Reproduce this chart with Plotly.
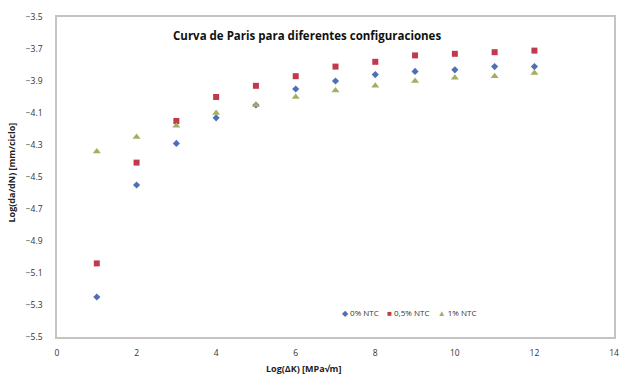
import plotly.graph_objects as go

x_vals = [1, 2, 3, 4, 5, 6, 7, 8, 9, 10, 11, 12]
ntc_0 = [-5.25, -4.55, -4.29, -4.13, -4.05, -3.95, -3.90, -3.86, -3.84, -3.83, -3.81, -3.81]
ntc_05 = [-5.04, -4.41, -4.15, -4.00, -3.93, -3.87, -3.81, -3.78, -3.74, -3.73, -3.72, -3.71]
ntc_1 = [-4.34, -4.25, -4.18, -4.10, -4.05, -4.00, -3.96, -3.93, -3.90, -3.88, -3.87, -3.85]
series_names = ["0% NTC", "0,5% NTC", "1% NTC"]
series_colors = ["#4F6FB8", "#C0394D", "#A4AE62"]
series_symbols = ["diamond", "square", "triangle-up"]
legend_glyphs = ["◆", "■", "▲"]
y_ticks = [-5.5, -5.3, -5.1, -4.9, -4.7, -4.5, -4.3, -4.1, -3.9, -3.7, -3.5]
x_ticks = [0, 2, 4, 6, 8, 10, 12, 14]

font_fam = "Open Sans, Noto Sans, sans-serif"

fig = go.Figure()
for name, ys, col, sym, sz in zip(series_names, [ntc_0, ntc_05, ntc_1], series_colors,
                                  series_symbols, [5.5, 6, 7]):
    fig.add_trace(go.Scatter(x=x_vals, y=ys, mode="markers", name=name,
                             marker=dict(symbol=sym, size=sz, color=col)))

axis_common = dict(showgrid=False, zeroline=False, showline=True, linecolor="#C4C4C4",
                   linewidth=1.5, mirror=True, ticks="", ticklabeloverflow="allow",
                   tickfont=dict(family=font_fam, size=8.5, color="#333333"))

legend_text = "&nbsp;&nbsp;&nbsp;&nbsp;".join(
    f"<span style='color:{c}'>{g}</span> {n}"
    for g, c, n in zip(legend_glyphs, series_colors, series_names))

fig.update_layout(
    width=621, height=377,
    margin=dict(l=57, r=2, t=17, b=40),
    paper_bgcolor="white", plot_bgcolor="white",
    font=dict(family=font_fam),
    xaxis=dict(range=[0, 14], tickvals=x_ticks, ticklabelstandoff=7, **axis_common),
    yaxis=dict(range=[-5.5, -3.5], tickvals=y_ticks, tickformat=".1f",
               ticklabelstandoff=11, **axis_common),
    showlegend=False,
    annotations=[
        dict(text="<b>Curva de Paris para diferentes configuraciones</b>",
             xref="paper", yref="paper", x=0.205, y=0.943, xanchor="left", yanchor="middle",
             showarrow=False, font=dict(family=font_fam, size=11.5, color="#111111")),
        dict(text="<b>Log(da/dN) [mm/ciclo]</b>", xref="paper", yref="paper",
             x=-0.082, y=0.515, xanchor="center", yanchor="middle", textangle=-90,
             showarrow=False, font=dict(family=font_fam, size=9, color="#222222")),
        dict(text="<b>Log(ΔK) [MPa√m]</b>", xref="paper", yref="paper",
             x=0.443, y=-0.098, xanchor="center", yanchor="middle", showarrow=False,
             font=dict(family=font_fam, size=9, color="#222222")),
        dict(text=legend_text, xref="paper", yref="paper", x=0.508, y=0.078,
             xanchor="left", yanchor="middle", showarrow=False,
             font=dict(family=font_fam, size=8, color="#333333")),
    ],
)

fig.write_html("out.html")
